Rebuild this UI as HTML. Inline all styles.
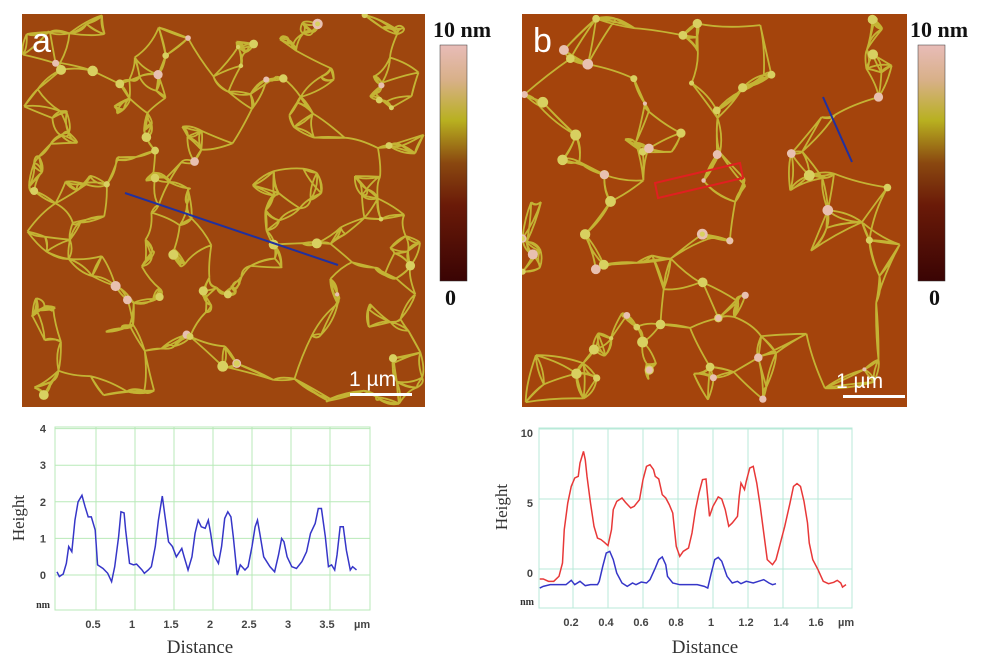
<!DOCTYPE html>
<html><head><meta charset="utf-8"><style>
html,body{margin:0;padding:0;background:#fff;width:1000px;height:656px;overflow:hidden;font-family:"Liberation Serif",serif}
svg{position:absolute;left:0;top:0}
</style></head><body>
<svg id="s" width="1000" height="656">
<defs>
<linearGradient id="cb" x1="0" y1="0" x2="0" y2="1">
<stop offset="0" stop-color="#e8bcb8"/><stop offset="0.15" stop-color="#d8b088"/><stop offset="0.32" stop-color="#b8b020"/><stop offset="0.5" stop-color="#8a4810"/><stop offset="0.68" stop-color="#6a1a08"/><stop offset="1" stop-color="#3a0404"/>
</linearGradient>
<clipPath id="ca"><rect x="22" y="14" width="403" height="393"/></clipPath>
<clipPath id="cbb"><rect x="522" y="14" width="385" height="393"/></clipPath>
</defs>
<rect x="22" y="14" width="403" height="393" fill="#9e460e"/>
<g id="neta" clip-path="url(#ca)"></g>
<rect x="522" y="14" width="385" height="393" fill="#a4440c"/>
<g id="netb" clip-path="url(#cbb)"></g>
<line x1="125" y1="193" x2="338" y2="265" stroke="#2030a0" stroke-width="2"/>
<line x1="823" y1="97" x2="852" y2="162" stroke="#2030a0" stroke-width="2"/>
<polygon points="655,183 740,163 743,178 658,198" fill="none" stroke="#e02020" stroke-width="2"/>
<text x="32" y="52" font-family="Liberation Sans" font-size="34" fill="#fff">a</text>
<text x="533" y="52" font-family="Liberation Sans" font-size="34" fill="#fff">b</text>
<text x="349" y="386" font-family="Liberation Sans" font-size="21" fill="#fff">1 µm</text>
<rect x="350" y="393" width="62" height="3" fill="#fff"/>
<text x="836" y="388" font-family="Liberation Sans" font-size="21" fill="#fff">1 µm</text>
<rect x="843" y="395" width="62" height="3" fill="#fff"/>
<rect x="440" y="45" width="27" height="236" fill="url(#cb)" stroke="#333" stroke-width="0.5"/>
<text x="433" y="37" font-size="22" font-weight="bold" fill="#111">10 nm</text>
<text x="445" y="305" font-size="22" font-weight="bold" fill="#111">0</text>
<rect x="918" y="45" width="27" height="236" fill="url(#cb)" stroke="#333" stroke-width="0.5"/>
<text x="910" y="37" font-size="22" font-weight="bold" fill="#111">10 nm</text>
<text x="929" y="305" font-size="22" font-weight="bold" fill="#111">0</text>
<g id="cha"></g>
<g id="chb"></g>
</svg>
<script>
// ---- chart a data ----
const aDist=[0,0.03,0.08,0.12,0.15,0.19,0.23,0.27,0.32,0.36,0.40,0.44,0.49,0.52,0.59,0.65,0.70,0.74,0.79,0.82,0.86,0.88,0.93,0.98,1.02,1.09,1.12,1.17,1.21,1.26,1.30,1.35,1.38,1.43,1.48,1.53,1.60,1.63,1.68,1.73,1.77,1.81,1.85,1.90,1.94,1.97,2.01,2.07,2.11,2.15,2.19,2.23,2.26,2.31,2.35,2.41,2.45,2.50,2.54,2.57,2.60,2.65,2.73,2.79,2.84,2.88,2.91,2.95,3.01,3.07,3.14,3.20,3.25,3.31,3.35,3.39,3.44,3.48,3.52,3.56,3.59,3.63,3.67,3.71,3.76,3.79,3.84];
const aHeight=[0.06,-0.07,0,0.29,0.75,0.61,1.47,1.97,2.15,1.84,1.56,1.56,1.2,0.25,0.15,0.02,-0.21,0.2,1.02,1.7,1.67,1.2,0.29,0.25,0.27,0.11,0.02,0.11,0.2,0.75,1.47,2.13,1.65,0.88,0.75,0.47,0.7,0.47,0.11,0.47,1.11,1.47,1.29,1.25,1.47,1.11,0.52,0.29,0.75,1.52,1.7,1.56,1.02,-0.03,0.25,0.11,0.2,0.75,1.29,1.47,1.11,0.47,0.2,0.06,0.52,0.97,0.88,0.47,0.2,0.15,0.34,0.61,1.11,1.38,1.79,1.79,1.02,0.2,0.25,0.11,0.52,1.29,1.29,0.65,0.11,0.2,0.11];
const aXTicks=["0.5","1","1.5","2","2.5","3","3.5"];
const aYTicks=["0","1","2","3","4"];
// ---- chart b data ----
const bRedDist=[0.01,0.03,0.06,0.09,0.12,0.14,0.15,0.17,0.19,0.21,0.23,0.24,0.26,0.27,0.28,0.30,0.32,0.34,0.36,0.38,0.40,0.42,0.43,0.45,0.48,0.50,0.53,0.55,0.58,0.60,0.62,0.64,0.66,0.67,0.69,0.71,0.73,0.75,0.77,0.79,0.81,0.83,0.86,0.88,0.90,0.92,0.94,0.96,0.98,1.00,1.03,1.05,1.07,1.09,1.11,1.14,1.15,1.16,1.18,1.19,1.21,1.23,1.25,1.27,1.29,1.31,1.34,1.36,1.38,1.41,1.44,1.46,1.48,1.50,1.52,1.54,1.55,1.57,1.60,1.63,1.66,1.69,1.71,1.73,1.74,1.76];
const bRedHeight=[-0.71,-0.71,-0.88,-0.88,-0.52,0.43,2.81,4.71,5.90,6.50,6.62,7.57,8.40,7.81,6.62,4.71,3.05,2.21,2.10,1.90,1.67,2.81,4.24,4.83,5.07,4.76,4.36,4.48,4.95,6.38,7.33,7.45,7.10,6.62,6.43,5.31,5.07,4.60,4.00,1.62,0.90,1.26,1.50,2.57,4.24,5.43,6.38,6.43,3.76,4.48,5.15,5.00,4.24,3.05,3.29,3.76,5.19,6.14,5.67,6.26,7.21,7.33,6.14,4.48,2.57,0.67,0.31,0.67,1.62,3.05,4.71,5.90,6.10,5.90,4.83,3.29,1.86,0.67,-0.05,-0.88,-1.05,-0.95,-0.81,-1.00,-1.29,-1.12];
const bBlueDist=[0.01,0.03,0.07,0.11,0.16,0.19,0.21,0.24,0.27,0.30,0.34,0.35,0.37,0.39,0.41,0.43,0.45,0.48,0.51,0.54,0.56,0.59,0.62,0.64,0.67,0.69,0.71,0.73,0.74,0.77,0.81,0.85,0.91,0.95,0.97,0.99,1.01,1.03,1.05,1.08,1.11,1.14,1.16,1.19,1.23,1.26,1.29,1.32,1.34,1.36];
const bBlueHeight=[-1.36,-1.24,-1.12,-1.12,-1.12,-0.81,-1.12,-0.88,-1.19,-1.12,-1.12,-0.88,0.19,1.14,1.26,0.67,-0.29,-1.00,-1.24,-1.00,-1.12,-0.93,-1.00,-0.76,0.07,0.67,0.86,0.31,-0.52,-1.00,-1.12,-1.12,-1.12,-1.24,-1.36,-0.29,0.67,0.83,0.55,-0.52,-1.00,-0.88,-1.05,-0.88,-1.00,-0.88,-0.76,-1.00,-1.12,-1.05];
const bXTicks=["0.2","0.4","0.6","0.8","1","1.2","1.4","1.6"];
const bYTicks=["0","5","10"];

const NS="http://www.w3.org/2000/svg";
function mk(p,tag,at){const e=document.createElementNS(NS,tag);for(const k in at)e.setAttribute(k,at[k]);p.appendChild(e);return e;}
function txt(p,x,y,s,size,anchor,extra){const t=mk(p,'text',Object.assign({x:x,y:y,'font-size':size,'text-anchor':anchor||'start',fill:'#333'},extra||{}));t.textContent=s;return t;}
const TF={'font-family':'Liberation Sans','font-weight':'bold',fill:'#444'};

// chart a
(function(){
 const g=document.getElementById('cha');
 const L=55,R=370,T=427,B=610;
 const xs=v=>57+78*v, ys=v=>574-36.6*v;
 const fr=mk(g,'rect',{x:L,y:T,width:R-L,height:B-T,fill:'#fff',stroke:'#b8eab8','stroke-width':1});
 
 
 aXTicks.forEach(s=>{const v=parseFloat(s);const gl=mk(g,'line',{x1:xs(v),x2:xs(v),y1:T,y2:B,stroke:'#b8eab8'});
  
  
  const t=txt(g,xs(v)-3,628,s,11,'middle',TF);
  
  });
 aYTicks.forEach(s=>{const v=parseFloat(s);const gl=mk(g,'line',{x1:L,x2:R,y1:ys(v)+1,y2:ys(v)+1,stroke:'#b8eab8'});
  
  
  const t=txt(g,46,ys(v)+5,s,11,'end',TF);
  
  });
 const u=txt(g,50,608,'nm',10,'end',{'font-weight':'bold'});
 const u2=txt(g,354,628,'µm',11,'start',TF);
 const xt=txt(g,200,653,'Distance',19,'middle');
 const yt=txt(g,24,518,'Height',17,'middle',{transform:'rotate(-90 24 518)'});
 const p=mk(g,'polyline',{points:aDist.map((d,i)=>xs(d)+','+ys(aHeight[i])).join(' '),fill:'none',stroke:'#3636c8','stroke-width':1.5});
 
 
})();
// chart b
(function(){
 const g=document.getElementById('chb');
 const L=539,R=852,T=428,B=608;
 const xs=v=>538+175*v, ys=v=>569-14*v;
 const fr=mk(g,'rect',{x:L,y:T,width:R-L,height:B-T,fill:'#fff',stroke:'#b8ead8','stroke-width':1});
 
 
 bXTicks.forEach(s=>{const v=parseFloat(s);const gl=mk(g,'line',{x1:xs(v),x2:xs(v),y1:T,y2:B,stroke:'#b8ead8'});
  
  
  const t=txt(g,xs(v)-2,626,s,11,'middle',TF);
  
  });
 bYTicks.forEach(s=>{const v=parseFloat(s);const gl=mk(g,'line',{x1:L,x2:R,y1:ys(v),y2:ys(v),stroke:'#b8ead8'});
  
  
  const t=txt(g,533,ys(v)+8,s,11,'end',TF);
  
  });
 const u=txt(g,534,605,'nm',10,'end',{'font-weight':'bold'});
 const u2=txt(g,838,626,'µm',11,'start',TF);
 const xt=txt(g,705,653,'Distance',19,'middle');
 const yt=txt(g,507,507,'Height',17,'middle',{transform:'rotate(-90 507 507)'});
 const p=mk(g,'polyline',{points:bRedDist.map((d,i)=>xs(d)+','+ys(bRedHeight[i])).join(' '),fill:'none',stroke:'#e83838','stroke-width':1.5});
 
 
 const q=mk(g,'polyline',{points:bBlueDist.map((d,i)=>xs(d)+','+ys(bBlueHeight[i])).join(' '),fill:'none',stroke:'#3636c8','stroke-width':1.5});
 
 
})();
// AFM network texture (decorative)
function net(id,x0,y0,w,h,n,seed,blobs,sw){
 const g=document.getElementById(id);let s=seed;const r=()=>{s=(s*16807)%2147483647;return s/2147483647;};
 const pts=[];for(let i=0;i<n;i++)pts.push([x0+r()*w,y0+r()*h]);
 let d='';
 pts.forEach((p,i)=>{const ds=pts.map((q,j)=>[Math.hypot(q[0]-p[0],q[1]-p[1]),j]).sort((a,b)=>a[0]-b[0]);
  for(let k=1;k<=3;k++){const q=pts[ds[k][1]];const mx=(p[0]+q[0])/2+(r()-0.5)*10,my=(p[1]+q[1])/2+(r()-0.5)*10;d+='M'+p[0].toFixed(1)+' '+p[1].toFixed(1)+'Q'+mx.toFixed(1)+' '+my.toFixed(1)+' '+q[0].toFixed(1)+' '+q[1].toFixed(1);}});
 const pa=mk(g,'path',{d:d,fill:'none',stroke:'#c8c038','stroke-width':sw,'stroke-opacity':0.9});
 
 
 for(let i=0;i<blobs;i++){const p=pts[Math.floor(r()*n)];const c=mk(g,'circle',{cx:p[0],cy:p[1],r:2+r()*3.5,fill:r()<0.3?'#e8c0b0':'#d8d060'});
  
  }
}
net('neta',22,14,403,393,260,12345,45,1.8);
net('netb',522,14,385,393,130,777,80,1.8);
</script>
</body></html>
